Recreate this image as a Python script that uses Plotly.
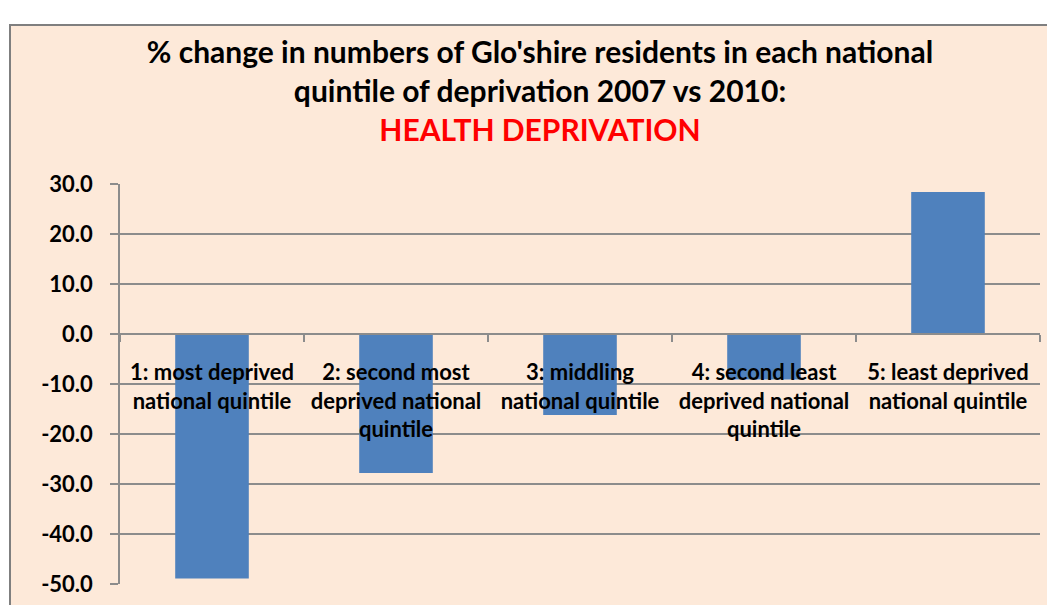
import plotly.graph_objects as go

categories = [
    "1: most deprived<br>national quintile",
    "2: second most<br>deprived national<br>quintile",
    "3: middling<br>national quintile",
    "4: second least<br>deprived national<br>quintile",
    "5: least deprived<br>national quintile",
]
pct_change = [-48.9, -27.8, -16.2, -9.1, 28.4]
y_ticks = [30, 20, 10, 0, -10, -20, -30, -40, -50]
y_tick_labels = ["30.0", "20.0", "10.0", "0.0", "-10.0", "-20.0", "-30.0", "-40.0", "-50.0"]

FONT = "Lato"
PEACH = "#FDE9D9"
GRID = "#8C8C8C"

# page has an 8px body margin, so the figure is drawn 8px right / down
W, H = 1047, 597
L, R, T, B = 112, 15, 176, 21
PW = W - L - R
PH = H - T - B

fig = go.Figure(
    go.Bar(
        x=categories,
        y=pct_change,
        marker=dict(color="#4F81BD", line=dict(width=0)),
        width=0.4,
    )
)

fig.update_layout(
    width=W,
    height=H,
    margin=dict(l=L, r=R, t=T, b=B, autoexpand=False),
    paper_bgcolor="white",
    plot_bgcolor="rgba(0,0,0,0)",
    showlegend=False,
    font=dict(family=FONT, color="black"),
    title=dict(
        text="<b>% change in numbers of Glo'shire residents in each national<br>"
             "quintile of deprivation 2007 vs 2010:<br>"
             "<span style='color:#FF0000'>HEALTH DEPRIVATION</span></b>",
        x=532 / W,
        xanchor="center",
        y=1 - 55 / H,
        yanchor="top",
        font=dict(family=FONT, size=30, color="black"),
    ),
    shapes=[
        dict(
            type="rect", xref="paper", yref="paper",
            x0=-(L - 2) / PW, x1=1 + 40 / PW, y0=-40 / PH, y1=1 + (T - 17) / PH,
            fillcolor=PEACH, line=dict(color="#7F7F7F", width=2),
            layer="below",
        )
    ],
)

fig.update_yaxes(
    range=[-50, 30],
    tickvals=y_ticks,
    ticktext=y_tick_labels,
    automargin=False,
    showgrid=True,
    gridcolor=GRID,
    gridwidth=1.5,
    zeroline=False,
    showline=True,
    linecolor=GRID,
    linewidth=1.5,
    ticks="outside",
    ticklen=8,
    tickcolor=GRID,
    tickwidth=1.5,
    ticklabelstandoff=13,
    tickfont=dict(family=FONT, size=22, color="black", weight="bold"),
)

fig.update_xaxes(
    anchor="free",
    position=50 / 80,
    automargin=False,
    showline=True,
    linecolor=GRID,
    linewidth=1.5,
    ticks="outside",
    tickson="boundaries",
    ticklen=7,
    tickcolor=GRID,
    tickwidth=1.5,
    showgrid=False,
    ticklabelstandoff=19,
    tickfont=dict(family=FONT, size=22, color="black", weight="bold"),
)

fig.write_html("out.html")
